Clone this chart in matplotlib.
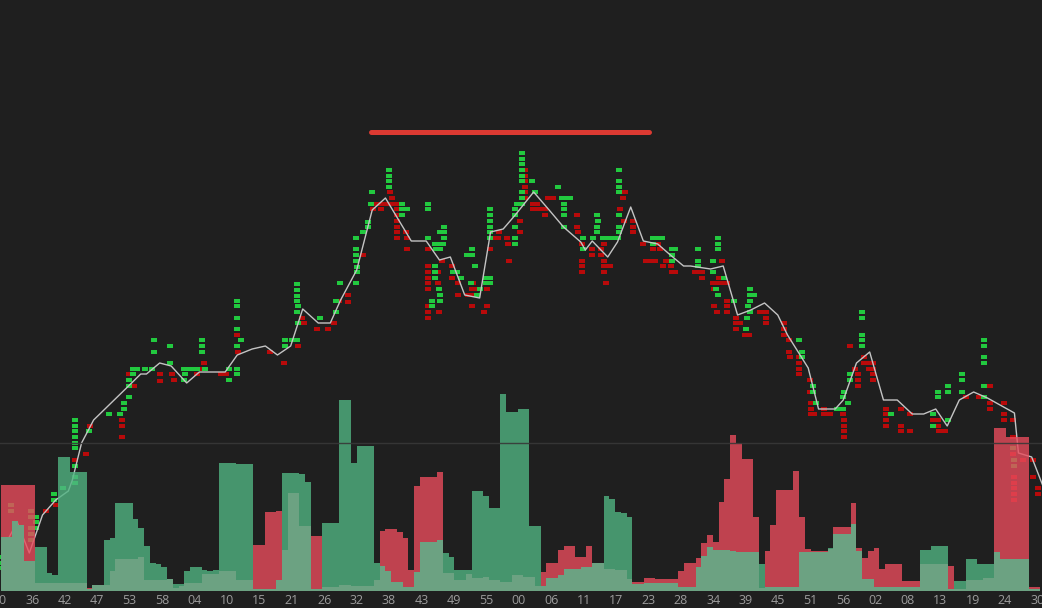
import matplotlib
matplotlib.use("Agg")
import matplotlib.pyplot as plt
import numpy as np

# ---------------- data ----------------
tick_labels = ['30', '36', '42', '47', '53', '58', '04', '10', '15', '21', '26', '32', '38', '43',
               '49', '55', '00', '06', '11', '17', '23', '28', '34', '39', '45', '51', '56', '02',
               '08', '13', '19', '24', '30']
tick_start_min = -0.6
tick_step_min = 5.644

# price line (time in minutes, price in points)
price_t = [0.0, 1.2, 2.4, 4.5, 6.8, 9.1, 11.3, 12.0, 13.6, 15.7, 21.6, 23.9, 24.9, 27.2, 29.2,
           31.9, 34.1, 38.6, 40.7, 43.3, 45.6, 47.7, 50.0, 52.1, 54.8, 56.9, 58.7, 61.5, 64.2,
           66.5, 68.8, 71.0, 73.6, 75.9, 77.8, 80.3, 82.9, 84.8, 87.0, 89.1, 92.3, 94.7, 97.5,
           100.5, 101.3, 102.5, 105.2, 106.9, 109.2, 111.4, 113.9, 116.1, 118.4, 119.6, 123.1,
           125.3, 127.8, 130.1, 132.5, 134.8, 136.5, 140.1, 141.9, 144.8, 146.2, 148.5, 150.8,
           153.2, 155.6, 158.2, 160.2, 162.3, 164.3, 166.4, 168.9, 171.3, 176.0, 176.7, 179.0, 180.9]
price_p = [43, 56, 69, 38, 76, 91, 100, 111, 148, 171, 204, 217, 217, 228, 225, 208, 219, 219,
           236, 242, 245, 236, 245, 282, 268, 268, 291, 321, 381, 393, 371, 350, 350, 331, 334,
           296, 293, 359, 362, 376, 399, 383, 364, 349, 341, 350, 334, 349, 384, 350, 347, 336,
           325, 325, 322, 325, 276, 281, 288, 276, 256, 223, 182, 182, 191, 228, 239, 191, 191,
           177, 177, 182, 165, 191, 199, 193, 178, 138, 134, 106]

# buy trades (green): (time, [prices])
buy_cols = [
    (-0.52, [34, 28, 23]), (0.70, [34]), (1.39, [86, 80]), (4.87, [80, 74, 63, 57, 51]),
    (5.75, [74, 69, 63]), (8.88, [97, 91]), (10.45, [103]),
    (12.53, [171, 165, 160, 154, 148, 143, 125, 114, 108]), (14.97, [160]),
    (18.45, [177]), (20.37, [177]), (21.06, [182, 188]), (21.94, [194, 205, 211]),
    (22.63, [217, 222]), (23.33, [222]), (24.72, [222]), (25.94, [222]), (26.29, [239, 251]),
    (29.07, [245, 228]), (31.51, [222, 211]), (31.68, [217]), (32.21, [222]), (32.90, [222]),
    (33.77, [222]), (34.64, [251, 245, 239]), (35.17, [222]), (39.34, [222, 211]),
    (40.74, [290, 285, 273, 262, 245, 222, 217]), (41.43, [251]), (49.09, [251, 245]),
    (50.31, [251]), (51.18, [251, 307, 301, 295, 290, 279]), (51.36, [285, 268]),
    (55.19, [273]), (57.97, [279, 290]), (58.67, [308]),
    (61.45, [353, 342, 336, 330, 308]), (61.63, [324, 319]), (62.67, [359]),
    (63.54, [364, 369]), (64.07, [387]), (64.24, [399]), (67.20, [421, 415, 410, 404]),
    (69.46, [387, 382, 376]), (70.33, [382]), (73.99, [387, 382, 353]), (74.68, [290, 285]),
    (75.21, [347, 325, 319, 313]), (75.38, [342]), (75.90, [302]),
    (76.08, [347, 342, 359, 296, 290]), (76.60, [347]), (76.77, [364, 359, 353]),
    (78.34, [319]), (79.04, [319]), (79.73, [313]), (80.78, [336]), (81.47, [308]),
    (81.65, [342, 336]), (82.17, [325]), (82.52, [296]), (83.04, [302]), (84.09, [313, 308]),
    (84.78, [313, 308, 382, 376, 370, 364, 359, 353]), (89.13, [382, 376, 364, 353, 347]),
    (89.48, [387]), (90.35, [387, 438, 432, 427, 421, 415, 410, 399, 393]), (92.09, [410]),
    (92.62, [399]), (96.62, [404]), (97.31, [393]), (97.66, [387, 382, 376, 364]),
    (98.01, [393]), (98.71, [393]), (100.97, [353, 342]), (102.71, [353]),
    (103.41, [376, 364, 359]), (103.58, [370]), (104.45, [353]), (105.15, [353]),
    (106.02, [353]), (107.07, [353]), (107.24, [421, 410, 404, 399, 376, 364, 359]),
    (113.16, [353, 347]), (113.86, [353]), (114.72, [353]), (116.47, [342, 336, 330]),
    (116.99, [342]), (121.00, [342, 330, 325]), (123.60, [330, 319]), (124.13, [302]),
    (124.47, [353, 347, 342, 296]), (125.52, [313]), (127.26, [290]), (129.35, [262]),
    (129.52, [273]), (129.70, [285]), (130.05, [302, 296, 290, 279]), (130.74, [296]),
    (138.57, [251]), (139.09, [239, 234]), (141.01, [205, 199]), (141.53, [188]),
    (145.19, [182]), (145.71, [182]), (146.24, [182, 194]), (146.41, [199]), (147.11, [188]),
    (147.45, [217, 211]), (149.54, [279, 273, 256, 251, 245]), (154.59, [177]),
    (161.90, [177, 165]), (162.78, [199, 194]), (164.52, [205, 199, 171]),
    (166.95, [217, 211, 199]), (170.78, [251, 245, 234, 228, 205, 194]),
    (175.83, [143]), (176.00, [131, 125]),
]

# sell trades (red): (time, [prices])
sell_cols = [
    (7.49, [80]), (9.23, [86]), (12.53, [131]), (14.45, [137]), (15.15, [165]),
    (20.72, [171, 165, 154]), (21.94, [217]), (22.81, [205]), (27.33, [210, 217]),
    (29.42, [217]), (29.77, [211]), (33.77, [217]), (34.64, [222]), (34.99, [228]),
    (37.95, [217]), (38.82, [217]), (40.74, [256]), (40.91, [239]), (46.48, [239]),
    (48.92, [228]), (51.36, [245]), (52.05, [273]), (52.40, [268]), (54.66, [262]),
    (56.58, [262]), (57.62, [268]), (58.49, [290]), (60.06, [296, 289]), (62.67, [336]),
    (64.41, [382]), (65.11, [387]), (65.81, [382]), (65.98, [387]), (67.02, [387]),
    (67.37, [399]), (67.72, [393]), (67.89, [387]),
    (68.59, [387, 382, 376, 370, 364, 359, 353]), (70.16, [359]), (70.33, [353, 342]),
    (73.99, [342, 325, 319, 313, 308, 302, 285, 279, 273]), (75.73, [319, 308]),
    (75.90, [279]), (76.43, [330]), (78.17, [325, 313]), (79.21, [308, 296]),
    (80.95, [296]), (81.65, [302, 285]), (81.82, [296, 308]), (82.17, [302]),
    (83.74, [279]), (84.26, [285, 302]), (84.78, [342]), (85.30, [353]), (86.17, [353]),
    (86.35, [359]), (87.74, [353]), (87.92, [347]), (88.09, [330]), (90.00, [370, 359]),
    (90.87, [421, 415, 410, 404, 399, 393]), (92.27, [387, 382]), (92.96, [387, 382]),
    (93.66, [382]), (94.36, [382, 376]), (94.88, [393]), (95.40, [393]), (95.75, [393]),
    (99.93, [376, 364]), (100.10, [359]), (100.80, [347, 330, 325, 319]),
    (102.54, [342, 336]), (104.10, [342, 336]), (104.63, [347, 330, 325, 319]),
    (104.98, [308]), (105.67, [325]), (107.42, [382]), (107.76, [399]), (107.94, [393]),
    (108.11, [370]), (108.28, [399]), (109.68, [370, 364, 359]), (111.42, [347]),
    (111.94, [330]), (112.46, [330]), (113.16, [342]), (113.51, [330]), (114.03, [347]),
    (114.38, [342]), (114.90, [325]), (115.42, [330]), (116.29, [330, 325]),
    (116.47, [319]), (116.99, [319]), (120.47, [319]), (121.17, [319]), (121.69, [319, 313]),
    (123.60, [308]), (123.78, [302, 285]), (124.30, [308, 279]), (124.65, [313]),
    (124.82, [308]), (125.17, [330, 313]), (125.52, [308]), (126.04, [308, 290, 285, 279]),
    (127.61, [273, 268, 262]), (128.30, [268]), (129.17, [256]), (129.87, [256]),
    (131.79, [279]), (132.83, [279, 273, 268]), (135.96, [268, 262, 256]),
    (136.83, [251, 239]), (137.01, [234]), (138.57, [234, 228, 222, 217]),
    (140.49, [211, 199]), (140.66, [188, 182, 177]), (141.18, [177]), (142.93, [182, 177]),
    (143.97, [177]), (146.24, [177]), (146.41, [171, 165, 160, 154]), (147.45, [245]),
    (148.32, [222]), (148.85, [217, 211, 205]), (149.89, [234, 228]), (150.76, [228, 222]),
    (151.46, [228, 222, 217, 211]), (153.72, [182, 177, 171, 165]),
    (156.34, [182, 165, 160]), (157.90, [177, 160]), (161.90, [171]), (162.78, [171, 165]),
    (162.95, [160]), (163.99, [160]), (167.65, [194]), (169.91, [194]),
    (171.83, [205, 188, 182]), (174.26, [188, 177, 171]), (175.83, [171, 154, 137]),
    (176.00, [114, 108, 103, 97, 91]), (177.57, [131]), (179.31, [131, 114]),
    (180.18, [103, 97]),
]

# volume per minute bin (total and passive part)
vol_total = [106, 106, 106, 106, 106, 106, 44, 44, 18, 16,
             134, 134, 119, 119, 119, 3, 5, 5, 51, 53,
             88, 88, 88, 72, 63, 45, 28, 27, 24, 12,
             7, 7, 20, 24, 24, 21, 20, 21, 128, 128,
             128, 127, 127, 127, 46, 46, 79, 79, 80, 118,
             118, 118, 117, 109, 55, 55, 68, 68, 68, 191,
             191, 128, 145, 145, 145, 28, 60, 62, 62, 59,
             53, 21, 105, 114, 114, 114, 119, 38, 34, 21,
             21, 21, 100, 100, 95, 83, 83, 197, 179, 179,
             182, 182, 65, 65, 19, 28, 28, 41, 45, 45,
             34, 34, 45, 26, 28, 95, 92, 79, 78, 74,
             9, 9, 13, 13, 12, 12, 12, 12, 20, 28,
             28, 33, 48, 56, 49, 89, 112, 156, 148, 132,
             132, 74, 27, 40, 66, 101, 101, 101, 120, 74,
             42, 40, 40, 40, 43, 64, 64, 64, 88, 43,
             33, 40, 43, 22, 27, 27, 27, 10, 10, 10,
             41, 41, 45, 45, 45, 25, 10, 10, 32, 32,
             27, 27, 27, 163, 163, 154, 154, 154, 154, 4,
             4]
vol_side = ("rrrrrrgggg" "gggggrgggg" "gggggggggg" "gggggggggg" "ggggrrrrrg"
            "ggggrrgggg" "ggggggrrrr" "rrrrrrrggg" "gggggggggg" "ggggrrrrrr"
            "rrrggggggg" "rrrrrrrrrr" "rrrrrrrrrr" "rrgrrrrrrr" "rrrrgrrrrr"
            "rrrrrrrrrr" "gggggrgggg" "gggrrrrrrr" "r")
vol_light = [54, 54, 70, 66, 30, 30, 8, 8, 8, 8,
             8, 8, 8, 8, 8, 2, 6, 6, 6, 20,
             32, 32, 32, 32, 34, 11, 11, 11, 11, 12,
             3, 5, 8, 8, 8, 17, 17, 17, 20, 20,
             20, 11, 11, 11, 2, 2, 2, 2, 11, 41,
             98, 98, 65, 65, 2, 2, 4, 4, 4, 6,
             6, 5, 5, 5, 5, 11, 25, 20, 9, 9,
             4, 4, 19, 49, 49, 49, 51, 18, 18, 11,
             11, 17, 13, 13, 14, 11, 11, 9, 9, 16,
             16, 14, 14, 5, 5, 13, 13, 16, 22, 22,
             22, 24, 24, 28, 28, 22, 22, 21, 21, 12,
             7, 7, 8, 8, 8, 8, 8, 8, 4, 4,
             4, 24, 35, 44, 41, 41, 41, 40, 39, 39,
             39, 39, 3, 4, 4, 4, 4, 4, 4, 39,
             39, 39, 39, 39, 42, 57, 57, 57, 67, 40,
             12, 12, 4, 4, 4, 4, 4, 4, 4, 4,
             27, 27, 27, 27, 27, 2, 2, 2, 11, 11,
             11, 13, 13, 39, 32, 32, 32, 32, 32, 2,
             2]

ref_level = 459
ref_start, ref_end = 63.9, 112.3
guide_level = 148

# ---------------- drawing ----------------
BG = '#1f1f1f'
fig = plt.figure(figsize=(10.42, 6.08), dpi=100, facecolor=BG)
ax = fig.add_axes([0, 17 / 608, 1, 591 / 608])
ax.set_facecolor(BG)
for s in ax.spines.values():
    s.set_visible(False)

ax.set_xlim(-0.6, 180.8)
ax.set_ylim(0, 591)

# trades
rect = [(-1, -0.65), (1, -0.65), (1, 0.65), (-1, 0.65), (-1, -0.65)]
bt = [t for t, ps in buy_cols for _ in ps]
bp = [p for _, ps in buy_cols for p in ps]
st = [t for t, ps in sell_cols for _ in ps]
sp = [p for _, ps in sell_cols for p in ps]
ax.scatter(st, sp, marker=rect, s=15, c='#b80a0a', linewidths=0, zorder=2)
ax.scatter(bt, bp, marker=rect, s=15, c='#22c93f', linewidths=0, zorder=2.1)

# price line
ax.plot(price_t, price_p, color='#c4c4c4', lw=1.0, zorder=2.5)

# volume bars
bins = np.arange(len(vol_total))
cols = ['#e84c5c' if c == 'r' else '#50b482' for c in vol_side]
ax.bar(bins, vol_total, width=1.0, color=cols, alpha=0.8, linewidth=0,
       antialiased=False, zorder=3)
ax.bar(bins, vol_light, width=1.0, color='#6ca282', linewidth=0,
       antialiased=False, zorder=4)

# guide and reference lines
ax.axhline(guide_level, color='#383838', lw=1.0, alpha=0.9, zorder=5)
ax.plot([ref_start, ref_end], [ref_level, ref_level], color='#dc3a32', lw=3.6,
        solid_capstyle='round', zorder=6)

ticks = tick_start_min + np.arange(len(tick_labels)) * tick_step_min
ax.set_xticks(ticks)
ax.set_xticklabels(tick_labels, fontsize=9, color='#9c9c9c', family='Open Sans')
ax.tick_params(axis='x', length=0, pad=2)
ax.set_yticks([])

fig.savefig('out.png', dpi=100, facecolor=BG)
